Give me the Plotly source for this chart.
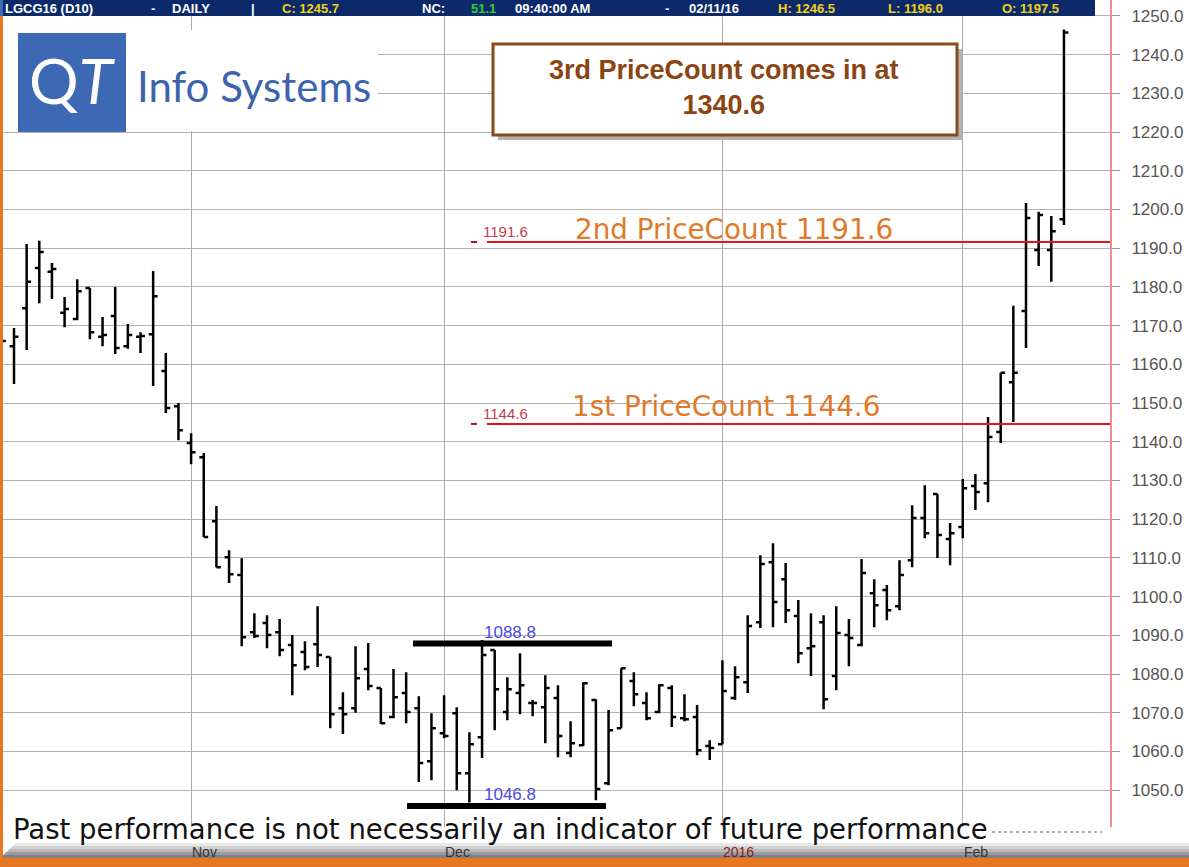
import plotly.graph_objects as go

# ---------------- data ----------------
dates = [
    "2015-10-12", "2015-10-13", "2015-10-14", "2015-10-15", "2015-10-16",
    "2015-10-19", "2015-10-20", "2015-10-21", "2015-10-22", "2015-10-23",
    "2015-10-26", "2015-10-27", "2015-10-28", "2015-10-29", "2015-10-30",
    "2015-11-02", "2015-11-03", "2015-11-04", "2015-11-05", "2015-11-06",
    "2015-11-09", "2015-11-10", "2015-11-11", "2015-11-12", "2015-11-13",
    "2015-11-16", "2015-11-17", "2015-11-18", "2015-11-19", "2015-11-20",
    "2015-11-23", "2015-11-24", "2015-11-25", "2015-11-27", "2015-11-30",
    "2015-12-01", "2015-12-02", "2015-12-03", "2015-12-04", "2015-12-07",
    "2015-12-08", "2015-12-09", "2015-12-10", "2015-12-11", "2015-12-14",
    "2015-12-15", "2015-12-16", "2015-12-17", "2015-12-18", "2015-12-21",
    "2015-12-22", "2015-12-23", "2015-12-24", "2015-12-28", "2015-12-29",
    "2015-12-30", "2015-12-31",
    "2016-01-04", "2016-01-05", "2016-01-06", "2016-01-07", "2016-01-08",
    "2016-01-11", "2016-01-12", "2016-01-13", "2016-01-14", "2016-01-15",
    "2016-01-19", "2016-01-20", "2016-01-21", "2016-01-22", "2016-01-25",
    "2016-01-26", "2016-01-27", "2016-01-28", "2016-01-29",
    "2016-02-01", "2016-02-02", "2016-02-03", "2016-02-04", "2016-02-05",
    "2016-02-08", "2016-02-09", "2016-02-10", "2016-02-11",
]

opens = [
    1161.0, 1164.7, 1174.5, 1184.9, 1183.9, 1173.3, 1171.7, 1179.7, 1167.1, 1172.5,
    1164.7, 1167.1, 1167.8, 1158.3, 1149.2,
    1139.7, 1136.0, 1119.5, 1110.2, 1105.6, 1090.8, 1093.2, 1090.8, 1087.5, 1085.7,
    1087.7, 1084.4, 1071.2, 1071.2, 1081.3, 1076.4, 1068.9, 1075.1, 1071.2, 1057.5,
    1064.7, 1069.9, 1054.4, 1063.7, 1086.2, 1070.2, 1075.1, 1072.5, 1071.4, 1073.8,
    1059.6, 1061.6, 1073.3, 1051.8, 1066.0, 1078.2, 1072.5, 1070.2, 1076.4, 1068.6,
    1068.9, 1061.4,
    1061.9, 1073.8, 1077.9, 1093.4, 1108.9, 1104.5, 1095.0, 1086.7, 1093.4, 1079.5,
    1090.1, 1087.5, 1100.9, 1101.7, 1097.5, 1109.4, 1120.3, 1126.5, 1114.9,
    1118.0, 1128.6, 1129.3, 1142.5, 1155.4, 1173.8, 1189.5, 1189.5, 1197.5,
]
highs = [
    1169.6, 1169.4, 1191.1, 1191.9, 1186.2, 1177.4, 1182.0, 1179.7, 1172.2, 1180.0,
    1170.4, 1168.3, 1184.1, 1162.9, 1150.0,
    1142.2, 1137.1, 1123.4, 1112.0, 1109.9, 1095.7, 1095.2, 1094.2, 1090.1, 1088.5,
    1097.5, 1084.4, 1075.3, 1087.2, 1088.0, 1076.4, 1081.3, 1080.5, 1074.3, 1069.9,
    1074.5, 1071.4, 1065.0, 1088.8, 1086.2, 1079.2, 1085.4, 1073.3, 1079.7, 1077.1,
    1067.8, 1077.9, 1073.5, 1070.7, 1081.5, 1080.5, 1075.3, 1077.4, 1077.1, 1074.8,
    1072.0, 1062.9,
    1083.6, 1082.0, 1095.2, 1110.7, 1113.8, 1108.7, 1099.1, 1095.7, 1095.2, 1097.5,
    1094.2, 1109.7, 1104.5, 1103.0, 1109.4, 1123.6, 1128.8, 1126.5, 1119.0,
    1130.4, 1131.7, 1146.4, 1157.8, 1175.1, 1201.7, 1199.4, 1198.3, 1246.5,
]
lows = [
    1158.0, 1154.9, 1163.7, 1175.8, 1176.9, 1169.6, 1171.4, 1166.5, 1164.7, 1162.7,
    1164.0, 1162.9, 1154.4, 1147.4, 1140.4,
    1134.2, 1115.4, 1107.6, 1103.5, 1087.2, 1089.3, 1086.7, 1084.6, 1074.5, 1081.0,
    1081.8, 1066.0, 1064.5, 1070.0, 1075.8, 1067.1, 1068.6, 1067.3, 1052.1, 1052.6,
    1063.4, 1050.0, 1046.8, 1058.3, 1065.5, 1068.1, 1069.6, 1069.1, 1062.1, 1058.5,
    1058.5, 1061.4, 1047.4, 1051.3, 1066.0, 1071.7, 1068.1, 1069.9, 1066.3, 1067.8,
    1059.0, 1057.8,
    1061.9, 1073.3, 1075.1, 1091.9, 1092.1, 1093.2, 1082.8, 1079.5, 1070.9, 1075.8,
    1082.0, 1087.2, 1092.1, 1093.9, 1096.5, 1107.6, 1115.1, 1110.0, 1108.1,
    1115.1, 1122.4, 1124.4, 1139.7, 1145.1, 1164.2, 1185.4, 1181.3, 1196.0,
]
closes = [
    1166.0, 1167.1, 1181.3, 1189.0, 1184.6, 1174.3, 1178.9, 1168.3, 1167.6, 1164.2,
    1167.6, 1167.3, 1177.6, 1148.7, 1143.0,
    1137.3, 1115.4, 1107.6, 1105.8, 1089.5, 1089.8, 1090.1, 1086.2, 1082.3, 1081.8,
    1084.9, 1069.6, 1069.6, 1078.9, 1076.9, 1067.3, 1074.0, 1070.2, 1057.0, 1066.0,
    1064.0, 1054.4, 1061.9, 1084.9, 1076.1, 1076.1, 1077.1, 1072.5, 1076.4, 1064.0,
    1062.1, 1077.6, 1050.3, 1065.5, 1081.5, 1074.8, 1068.6, 1077.1, 1068.9, 1068.3,
    1060.3, 1060.9,
    1075.6, 1079.2, 1092.4, 1108.4, 1098.6, 1096.5, 1085.4, 1087.2, 1073.5, 1090.6,
    1089.3, 1106.1, 1097.8, 1096.5, 1105.6, 1120.3, 1116.4, 1115.9, 1116.4,
    1128.0, 1127.0, 1141.2, 1157.8, 1157.8, 1197.8, 1198.6, 1194.4, 1245.7,
]

month_ticks = ["2015-11-02", "2015-12-01", "2016-01-04", "2016-02-01"]
month_labels = ["Nov", "Dec", "2016", "Feb"]

price_counts = [1144.6, 1191.6]
price_count_texts = ["1st PriceCount 1144.6", "2nd PriceCount 1191.6"]
range_levels = [1088.8, 1046.8]
third_count_text = "3rd PriceCount comes in at<br>1340.6"
disclaimer = "Past performance is not necessarily an indicator of future performance"

header_parts = [
    ("LGCG16 (D10)", "#ffffff"), ("-", "#ffffff"), ("DAILY", "#ffffff"), ("|", "#ffffff"),
    ("C: 1245.7", "#f3d21a"), ("NC:", "#ffffff"), ("51.1", "#2fd12f"),
    ("09:40:00 AM", "#ffffff"), ("-", "#ffffff"), ("02/11/16", "#ffffff"),
    ("H: 1246.5", "#f3d21a"), ("L: 1196.0", "#f3d21a"), ("O: 1197.5", "#f3d21a"),
]
header_x = [4, 150, 171, 250, 281, 421, 470, 514, 664, 688, 777, 887, 1001]

# ---------------- geometry helpers ----------------
W, H = 1189, 867
ML, MR, MT, MB = 0, 79, 0, 40
PW, PH = W - ML - MR, H - MT - MB
X0_PX, STEP_PX = 1.35, 12.65          # pixel of first bar, bar spacing
XR = [(0 - X0_PX) / STEP_PX, (PW - X0_PX) / STEP_PX]
YR = [1040.5, 1254.1]


def px(x):
    return (x - ML) / PW


def py(y):
    return (H - MB - y) / PH


def xi(x):
    return (x - X0_PX) / STEP_PX


ORANGE = "#E87722"
ARIAL = "Liberation Sans, Arial, sans-serif"
DEJAVU = "DejaVu Sans, Verdana, sans-serif"

fig = go.Figure()
fig.add_trace(go.Ohlc(
    x=dates, open=opens, high=highs, low=lows, close=closes,
    increasing=dict(line=dict(color="#000000", width=2.5)),
    decreasing=dict(line=dict(color="#000000", width=2.5)),
    tickwidth=0.35, hoverinfo="skip", showlegend=False,
))

shapes = []
annos = []

# white gap at very left of plot (no gridlines there)
shapes.append(dict(type="rect", xref="paper", yref="paper", x0=px(3), x1=px(14), y0=py(840), y1=1,
                   fillcolor="white", line=dict(width=0), layer="between"))

# header band
shapes.append(dict(type="rect", xref="paper", yref="paper", x0=px(0), x1=px(1095), y0=py(16), y1=1,
                   fillcolor="#0c2a69", line=dict(width=0), layer="above"))
shapes.append(dict(type="rect", xref="paper", yref="paper", x0=px(0), x1=px(3), y0=py(16), y1=1,
                   fillcolor="#3d6cb5", line=dict(width=0), layer="above"))
for (txt, col), hx in zip(header_parts, header_x):
    annos.append(dict(xref="paper", yref="paper", x=px(hx), y=py(8), xanchor="left", yanchor="middle",
                      text=f"<b>{txt}</b>", showarrow=False, borderpad=0,
                      font=dict(family=ARIAL, size=13, color=col)))

# logo
shapes.append(dict(type="rect", xref="paper", yref="paper", x0=px(3), x1=px(378), y0=py(131), y1=py(30),
                   fillcolor="white", line=dict(width=0), layer="above"))
shapes.append(dict(type="rect", xref="paper", yref="paper", x0=px(18), x1=px(126), y0=py(132), y1=py(33),
                   fillcolor="#3c68b4", line=dict(width=0), layer="above"))
annos.append(dict(xref="paper", yref="paper", x=px(72), y=py(80), xanchor="center", yanchor="middle",
                  text="Q<i>T</i>", showarrow=False,
                  font=dict(family="Lato, sans-serif", size=62, color="white")))
annos.append(dict(xref="paper", yref="paper", x=px(135), y=py(86), xanchor="left", yanchor="middle",
                  text="Info Systems", showarrow=False,
                  font=dict(family="Lato, sans-serif", size=42, color="#3e63ad")))

# 3rd price count box
shapes.append(dict(type="rect", xref="paper", yref="paper", x0=px(498), x1=px(962), y0=py(140), y1=py(49),
                   fillcolor="#b3b3b3", line=dict(width=0), layer="above"))
shapes.append(dict(type="rect", xref="paper", yref="paper", x0=px(493), x1=px(957), y0=py(135), y1=py(44),
                   fillcolor="white", line=dict(color="#8c4a1c", width=3), layer="above"))
annos.append(dict(xref="paper", yref="paper", x=px(724), y=py(88), xanchor="center", yanchor="middle",
                  text=f"<b>{third_count_text}</b>", showarrow=False,
                  font=dict(family=ARIAL, size=27, color="#8b4513")))

# black range lines and their labels
range_spans = [(xi(413), xi(612)), (xi(407), xi(606))]
for lvl, (a, b) in zip(range_levels, range_spans):
    shapes.append(dict(type="line", xref="x", yref="y", x0=a, x1=b, y0=lvl - 0.9, y1=lvl - 0.9,
                       line=dict(color="#000000", width=6), layer="above"))
    annos.append(dict(xref="x", yref="y", x=xi(510), y=lvl, yshift=8, xanchor="center", yanchor="middle",
                      text=f"{lvl:.1f}", showarrow=False,
                      font=dict(family=ARIAL, size=17, color="#4b4be0")))

# price count lines
pc_text_x = [570, 573]
pc_text_shift = [17, 12]
for lvl, txt, tx, ts in zip(price_counts, price_count_texts, pc_text_x, pc_text_shift):
    shapes.append(dict(type="line", xref="x", yref="y", x0=xi(487), x1=XR[1], y0=lvl, y1=lvl,
                       line=dict(color="#e8141c", width=2), layer="above"))
    shapes.append(dict(type="line", xref="x", yref="y", x0=xi(471), x1=xi(477), y0=lvl, y1=lvl,
                       line=dict(color="#b01030", width=2), layer="above"))
    annos.append(dict(xref="x", yref="y", x=xi(505), y=lvl, yshift=10, xanchor="center", yanchor="middle",
                      text=f"{lvl:.1f}", showarrow=False,
                      font=dict(family=ARIAL, size=15, color="#c8384f")))
    annos.append(dict(xref="x", yref="y", x=xi(tx), y=lvl, yshift=ts, xanchor="left", yanchor="middle",
                      text=txt, showarrow=False,
                      font=dict(family=DEJAVU, size=27.8, color="#e07a2a")))

# bottom band
band_cols = ["#e8e8e8", "#d2d2d2", "#b8b8b8", "#9c9c9c", "#808080"]
for k, c in enumerate(band_cols):
    shapes.append(dict(type="rect", xref="paper", yref="paper", x0=px(0), x1=px(W),
                       y0=py(846 + 3 * k), y1=py(843 + 3 * k),
                       fillcolor=c, line=dict(width=0), layer="above"))
shapes.append(dict(type="path", xref="paper", yref="paper",
                   path=f"M {px(0)} {py(843)} L {px(16)} {py(843)} L {px(0)} {py(858)} Z",
                   fillcolor="white", line=dict(width=0), layer="above"))
shapes.append(dict(type="rect", xref="paper", yref="paper", x0=px(0), x1=px(W), y0=py(867), y1=py(858),
                   fillcolor=ORANGE, line=dict(width=0), layer="above"))
shapes.append(dict(type="rect", xref="paper", yref="paper", x0=px(0), x1=px(3), y0=py(860), y1=py(16),
                   fillcolor=ORANGE, line=dict(width=0), layer="above"))

# disclaimer
annos.append(dict(xref="paper", yref="paper", x=px(11), y=py(829), xanchor="left", yanchor="middle",
                  text=disclaimer, showarrow=False,
                  font=dict(family=DEJAVU, size=27.5, color="#111111")))
shapes.append(dict(type="line", xref="paper", yref="paper", x0=px(992), x1=px(1102), y0=py(832), y1=py(832),
                   line=dict(color="#b0b0b0", width=2, dash="dot"), layer="above"))

# month labels in bottom band
month_cols = ["#333333", "#333333", "#8b1a1a", "#333333"]
for m, lab, c in zip(month_ticks, month_labels, month_cols):
    annos.append(dict(xref="x", yref="paper", x=dates.index(m), y=py(852), xanchor="left", yanchor="middle",
                      xshift=-1, text=lab, showarrow=False,
                      font=dict(family=ARIAL, size=14, color=c)))

fig.update_layout(
    width=W, height=H,
    margin=dict(l=ML, r=MR, t=MT, b=MB, pad=0),
    paper_bgcolor="white", plot_bgcolor="white",
    showlegend=False,
    hovermode=False,
    shapes=shapes,
    annotations=annos,
    xaxis=dict(
        type="category", range=XR, rangeslider=dict(visible=False),
        tickmode="array", tickvals=month_ticks, showticklabels=False, ticks="",
        showgrid=True, gridcolor="#ababab", gridwidth=1, showline=False, zeroline=False,
        fixedrange=True,
    ),
    yaxis=dict(
        side="right", range=YR, tick0=1050, dtick=10, tickformat=".1f",
        showgrid=True, gridcolor="#b2b2b2", gridwidth=1, zeroline=False,
        ticks="outside", ticklen=8, tickcolor="#9a9a9a", tickwidth=1,
        showline=True, linecolor="#f08c8c", linewidth=2,
        tickfont=dict(family=ARIAL, size=17, color="#555555"),
        ticklabelstandoff=8, fixedrange=True,
    ),
)

fig.write_html("out.html", config={"displayModeBar": False},
               post_script="document.body.style.margin='0px';")
